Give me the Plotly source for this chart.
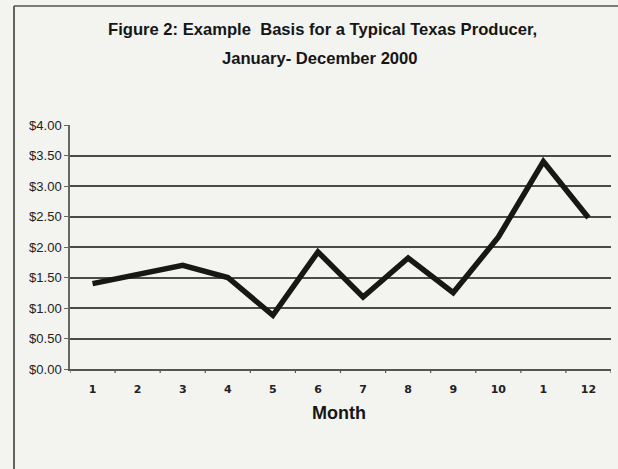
import plotly.graph_objects as go

months = list(range(1, 13))
tick_labels = ["1", "2", "3", "4", "5", "6", "7", "8", "9", "10", "1", "12"]
basis = [1.40, 1.55, 1.70, 1.50, 0.88, 1.92, 1.18, 1.82, 1.25, 2.16, 3.40, 2.48]
y_ticks = [0, 0.5, 1.0, 1.5, 2.0, 2.5, 3.0, 3.5, 4.0]
y_labels = ["$0.00", "$0.50", "$1.00", "$1.50", "$2.00", "$2.50", "$3.00", "$3.50", "$4.00"]
title_lines = ["Figure 2: Example  Basis for a Typical Texas Producer,", "January- December 2000"]
x_title = "Month"

W, H = 618, 469
L, R, T, B = 70, 7, 125, 100
pw = W - L - R
ph = H - T - B

FONT = "Liberation Sans, Arial, sans-serif"

fig = go.Figure()
fig.add_trace(go.Scatter(
    x=months, y=basis, mode="lines",
    line=dict(color="#161816", width=5.5),
    hoverinfo="skip", showlegend=False,
))

fig.update_layout(
    width=W, height=H,
    margin=dict(l=L, r=R, t=T, b=B),
    paper_bgcolor="#f3f3f0",
    plot_bgcolor="#f3f3f0",
    xaxis=dict(
        range=[0.5, 12.5],
        tickmode="array", tickvals=months, ticktext=tick_labels,
        showgrid=False, zeroline=False,
        showline=True, linecolor="#555", linewidth=1.5,
        ticks="", ticklabelstandoff=9,
        tickfont=dict(family="DejaVu Sans, Verdana, sans-serif", size=11, color="#222", weight="bold"),
    ),
    yaxis=dict(
        range=[0, 4],
        tickmode="array", tickvals=y_ticks, ticktext=y_labels,
        showgrid=True, gridcolor="#4a4a4a", gridwidth=1.5,
        zeroline=False,
        showline=True, linecolor="#666", linewidth=1.5,
        ticks="outside", ticklen=4, tickcolor="#666",
        tickfont=dict(family=FONT, size=13, color="#222"),
    ),
)

def py(ypix):
    return (H - B - ypix) / ph

def px(xpix):
    return (xpix - L) / pw

annotations = [
    dict(text=title_lines[0], xref="paper", yref="paper", x=px(322), y=py(30),
         xanchor="center", yanchor="middle", showarrow=False,
         font=dict(family=FONT, size=16.6, color="#161616", weight="bold")),
    dict(text=title_lines[1], xref="paper", yref="paper", x=px(320), y=py(58),
         xanchor="center", yanchor="middle", showarrow=False,
         font=dict(family=FONT, size=16.6, color="#161616", weight="bold")),
    dict(text=x_title, xref="paper", yref="paper", x=px(339), y=py(413),
         xanchor="center", yanchor="middle", showarrow=False,
         font=dict(family=FONT, size=18, color="#161616", weight="bold")),
]

shapes = []
for i in range(13):
    xv = 0.5 + i
    shapes.append(dict(type="line", xref="x", yref="paper", x0=xv, x1=xv, y0=0, y1=-4 / ph,
                       line=dict(color="#555", width=1.2)))
shapes.append(dict(type="line", xref="paper", yref="paper",
                   x0=px(14), x1=px(14), y0=py(6), y1=py(H),
                   line=dict(color="#333", width=1.5)))
shapes.append(dict(type="line", xref="paper", yref="paper",
                   x0=px(14), x1=px(W), y0=py(6), y1=py(6),
                   line=dict(color="#555", width=1.5)))
fig.update_layout(shapes=shapes, annotations=annotations)

fig.write_html("out.html")
